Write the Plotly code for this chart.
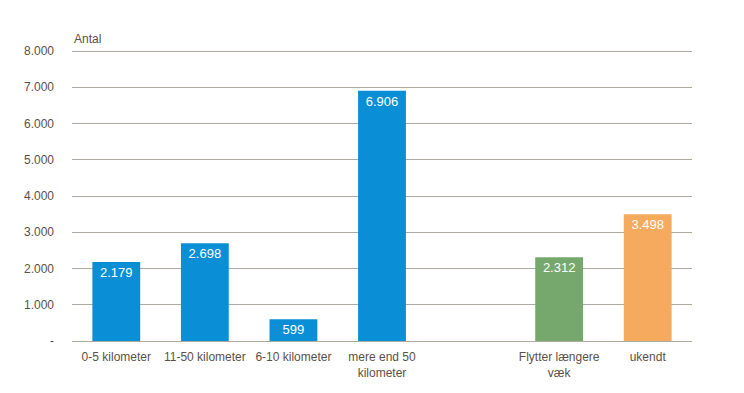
import plotly.graph_objects as go

categories = ["0-5 kilometer", "11-50 kilometer", "6-10 kilometer", "mere end 50<br>kilometer", " ", "Flytter længere<br>væk", "ukendt"]
values = [2179, 2698, 599, 6906, None, 2312, 3498]
colors = ["#0A8FD6", "#0A8FD6", "#0A8FD6", "#0A8FD6", "#0A8FD6", "#76A86E", "#F5AA5E"]
tick_vals = [0, 1000, 2000, 3000, 4000, 5000, 6000, 7000, 8000]
tick_text = ["-", "1.000", "2.000", "3.000", "4.000", "5.000", "6.000", "7.000", "8.000"]

texts = ["" if v is None else f"{v:,}".replace(",", ".") for v in values]
font_fam = "Liberation Sans Narrow, Arial Narrow, Liberation Sans, sans-serif"
txt_col = "#5B5048"
grid_col = "#AFAC9F"

fig = go.Figure(go.Bar(
    x=categories, y=values, marker_color=colors, marker_line_width=0,
    text=texts, textposition="inside", insidetextanchor="end",
    textfont=dict(color="white", size=13, family=font_fam),
    textangle=0, cliponaxis=False,
))
fig.update_layout(
    width=744, height=393,
    margin=dict(l=72, r=52, t=50, b=52, autoexpand=False),
    plot_bgcolor="white", paper_bgcolor="white",
    bargap=0.46, showlegend=False,
    font=dict(family=font_fam, color=txt_col, size=12),
    annotations=[dict(text="Antal", xref="paper", yref="paper", x=0, y=1.0,
                      xanchor="left", yanchor="bottom", yshift=2, showarrow=False,
                      font=dict(size=12, color=txt_col, family=font_fam))],
)
fig.update_yaxes(range=[0, 8028], tickvals=tick_vals, ticktext=tick_text,
                 showgrid=True, gridcolor=grid_col, gridwidth=1,
                 zeroline=True, zerolinecolor=grid_col, zerolinewidth=1,
                 ticks="", ticklabelstandoff=17, automargin=False,
                 tickfont=dict(size=12, color=txt_col))
fig.update_xaxes(showline=False, ticks="", tickfont=dict(size=12, color=txt_col),
                 tickangle=0, automargin=False, ticklabelstandoff=7)
fig.write_html("out.html", config={"displayModeBar": False},
               post_script="document.body.style.margin='0';")
